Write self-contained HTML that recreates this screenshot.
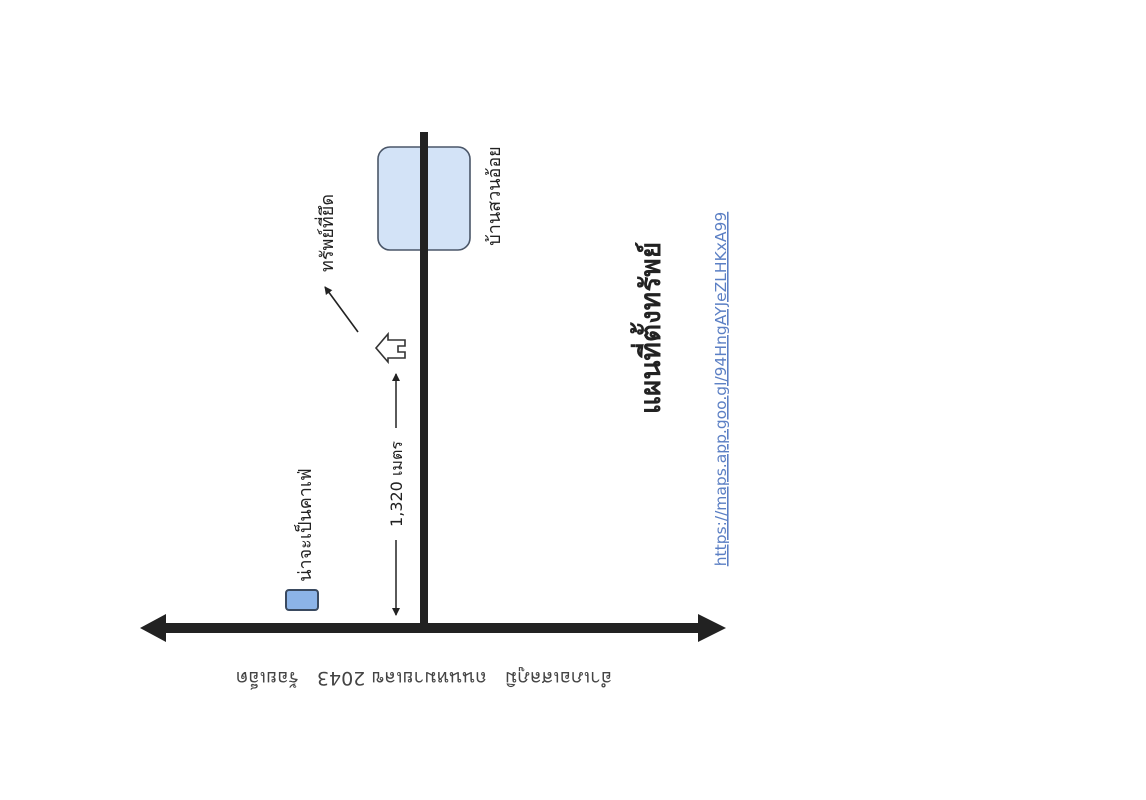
<!DOCTYPE html>
<html><head><meta charset="utf-8"><style>
html,body{margin:0;padding:0;background:#fff}
svg{display:block}
text{font-family:"DejaVu Sans","Liberation Sans",sans-serif;fill:#222}
</style></head><body>
<svg width="1146" height="800" viewBox="0 0 1146 800" xmlns="http://www.w3.org/2000/svg">
<defs>
<marker id="ah" markerWidth="8" markerHeight="8" refX="7" refY="4" orient="auto" markerUnits="userSpaceOnUse">
<path d="M0,0 L8,4 L0,8 Z" fill="#222"/></marker>
</defs>
<rect x="378" y="147" width="92" height="103" rx="12" fill="#d3e3f7" stroke="#4a5668" stroke-width="1.6"/>
<rect x="420" y="132" width="8" height="500" fill="#222"/>
<rect x="160" y="623" width="545" height="10" fill="#222"/>
<path d="M140,628 L166,614 L166,642 Z" fill="#222"/>
<path d="M726,628 L698,614 L698,642 Z" fill="#222"/>
<rect x="286" y="590" width="32" height="20" rx="3" fill="#8cb4e8" stroke="#3a4a60" stroke-width="2"/>
<path d="M376,348 L388,334 L388,340 L405,340 L405,346 L398,346 L398,352 L405,352 L405,358 L388,358 L388,362 Z" fill="#fff" stroke="#333" stroke-width="1.6"/>
<line x1="358" y1="332" x2="325" y2="287" stroke="#222" stroke-width="1.6" marker-end="url(#ah)"/>
<line x1="396" y1="428" x2="396" y2="374" stroke="#222" stroke-width="1.5" marker-end="url(#ah)"/>
<line x1="396" y1="540" x2="396" y2="615" stroke="#222" stroke-width="1.5" marker-end="url(#ah)"/>
<text transform="translate(402,484) rotate(-90)" text-anchor="middle" font-size="16">1,320 เมตร</text>
<text transform="translate(500,196) rotate(-90)" text-anchor="middle" font-size="18">บ้านสวนอ้อย</text>
<text transform="translate(333,233) rotate(-90)" text-anchor="middle" font-size="18">ทรัพย์ที่ยึด</text>
<text transform="translate(311,525) rotate(-90)" text-anchor="middle" font-size="18">น่าจะเป็นคาเฟ่</text>
<text transform="translate(660,328) rotate(-90)" text-anchor="middle" font-size="28" font-weight="bold">แผนที่ตั้งทรัพย์</text>
<text transform="translate(726,389) rotate(-90)" text-anchor="middle" font-size="15.5" style="fill:#5b7fc4" text-decoration="underline">https://maps.app.goo.gl/94HngAYJeZLHKxA99</text>
<text transform="translate(424,672) rotate(180)" text-anchor="middle" font-size="19" style="fill:#444;white-space:pre" xml:space="preserve">อำเภอเสลภูมิ   ถนนหมายเลข 2043   ร้อยเอ็ด</text>
</svg>
</body></html>
